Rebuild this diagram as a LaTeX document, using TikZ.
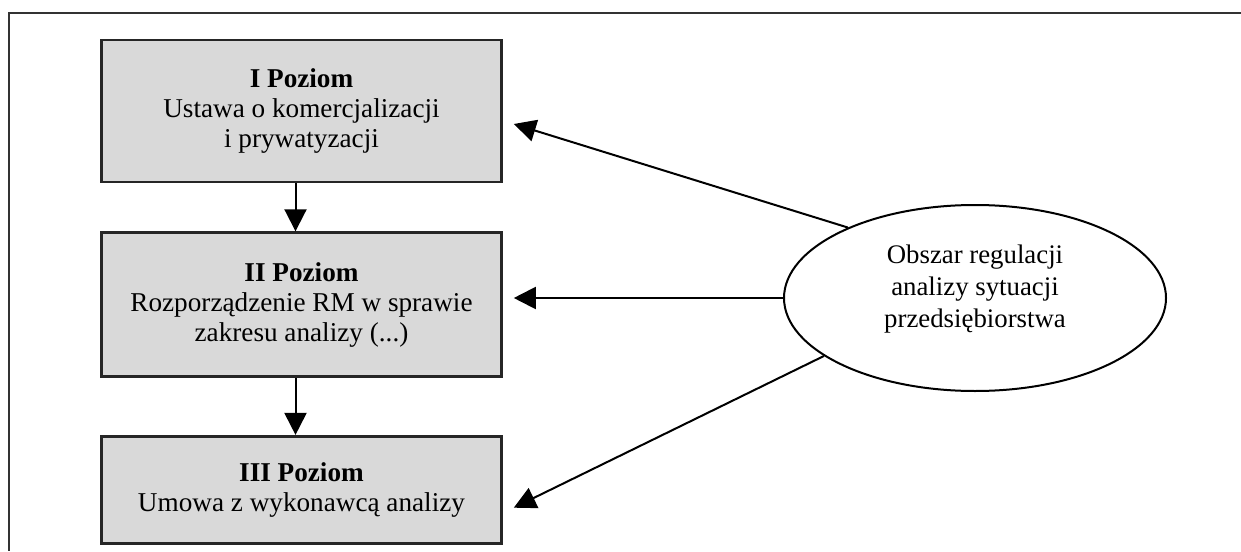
\documentclass[tikz,border=0pt]{standalone}
\usepackage{fontspec}
\setmainfont{Liberation Serif}
\usepackage{tikz}
\usetikzlibrary{positioning,arrows.meta,shapes.geometric}

\tikzset{
  poziom/.style={draw=black!85, line width=1.3pt, fill=black!15, minimum width=200pt,
    align=center, inner sep=2pt, font=\fontsize{13.6}{15}\selectfont},
  obszarstyle/.style={draw, ellipse, line width=1pt, minimum width=191pt, minimum height=93pt,
    align=center, inner sep=0pt, font=\fontsize{13.4}{16}\selectfont},
  strzalka/.style={line width=1pt, -{Triangle[length=11pt,width=11pt]}}
}

\begin{document}
\begin{tikzpicture}[x=0.5pt,y=-0.5pt]
  \useasboundingbox (0,0) rectangle (1241,551);
  % frame (cut at the right and bottom)
  \draw[line width=1pt, black!80] (1241,13) -- (8.5,13) -- (8.5,551);
  % the three levels
  \node[poziom, minimum height=71pt] (lvlone) at (301.5,111)
    {\textbf{I Poziom}\\Ustawa o komercjalizacji\\i prywatyzacji};
  \node[poziom, minimum height=72pt, below=24pt of lvlone] (lvltwo)
    {\textbf{II Poziom}\\Rozporządzenie RM w sprawie\\zakresu analizy (...)};
  \node[poziom, minimum height=53.5pt, below=28.5pt of lvltwo] (lvlthree)
    {\textbf{III Poziom}\\Umowa z wykonawcą analizy};
  % the area of regulation
  \node[obszarstyle] (obszar) at (975,298)
    {Obszar regulacji\\analizy sytuacji\\przedsiębiorstwa\\[-4pt]};
  % arrows between levels
  \draw[strzalka] ([xshift=-3pt]lvlone.south) -- ([xshift=-3pt]lvltwo.north);
  \draw[strzalka] ([xshift=-3pt]lvltwo.south) -- ([xshift=-3pt]lvlthree.north);
  % arrows from the ellipse
  \draw[strzalka] (obszar.151) -- ([xshift=5.5pt,yshift=-6.5pt]lvlone.east);
  \draw[strzalka] (obszar.west) -- ([xshift=5.5pt]obszar.west -| lvltwo.east);
  \draw[strzalka] (obszar.201) -- ([xshift=5.5pt,yshift=-9pt]lvlthree.east);
\end{tikzpicture}
\end{document}
